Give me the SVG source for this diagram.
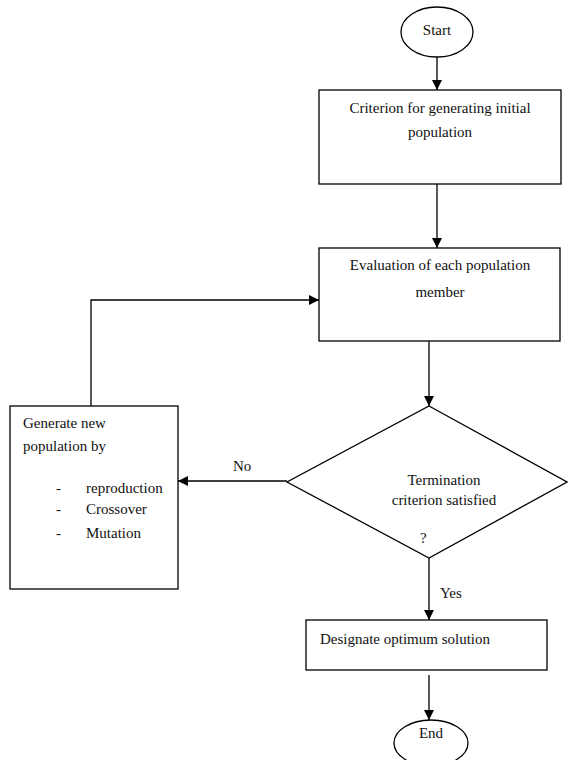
<svg xmlns="http://www.w3.org/2000/svg" width="568" height="760" viewBox="0 0 568 760">
<defs>
<marker id="ah" markerWidth="10" markerHeight="10" refX="10" refY="5" orient="auto" markerUnits="userSpaceOnUse">
<path d="M0,0 L10,5 L0,10 Z" fill="#000"/>
</marker>
<style>
.s{fill:#fff;stroke:#000;stroke-width:1.3}
.t{font-family:"Liberation Serif","DejaVu Serif","Times New Roman",serif;font-size:15px;fill:#111}
.c{text-anchor:middle}
.l{fill:none;stroke:#000;stroke-width:1.3;marker-end:url(#ah)}
</style>
</defs>
<rect width="568" height="760" fill="#fff"/>
<g id="connectors">
<line class="l" x1="437" y1="57" x2="437" y2="90"/>
<line class="l" x1="437" y1="184" x2="437" y2="248"/>
<line class="l" x1="429" y1="341" x2="429" y2="406"/>
<line class="l" x1="287" y1="481" x2="178" y2="481"/>
<polyline class="l" points="91,406 91,300 319,300"/>
<line class="l" x1="429" y1="558" x2="429" y2="620"/>
<line class="l" x1="429" y1="675" x2="429" y2="720"/>
<text class="t" x="233" y="471">No</text>
<text class="t" x="440" y="598">Yes</text>
</g>
<g id="start">
<ellipse class="s" cx="437" cy="32" rx="36" ry="25"/>
<text class="t c" x="437" y="35">Start</text>
</g>
<g id="init">
<rect class="s" x="319" y="90" width="242" height="94"/>
<text class="t c" x="440" y="113">Criterion for generating initial</text>
<text class="t c" x="440" y="137">population</text>
</g>
<g id="eval">
<rect class="s" x="319" y="248" width="241" height="93"/>
<text class="t c" x="440" y="270">Evaluation of each population</text>
<text class="t c" x="440" y="297">member</text>
</g>
<g id="decision">
<polygon class="s" points="429,406 567,482 429,558 287,482"/>
<text class="t c" x="444" y="485">Termination</text>
<text class="t c" x="444" y="505">criterion satisfied</text>
<text class="t" x="420" y="543">?</text>
</g>
<g id="generate">
<rect class="s" x="10" y="406" width="168" height="183"/>
<text class="t" x="23" y="428">Generate new</text>
<text class="t" x="23" y="451">population by</text>
<text class="t" x="56" y="493">-</text>
<text class="t" x="86" y="493">reproduction</text>
<text class="t" x="56" y="514">-</text>
<text class="t" x="86" y="514">Crossover</text>
<text class="t" x="56" y="538">-</text>
<text class="t" x="86" y="538">Mutation</text>
</g>
<g id="designate">
<rect class="s" x="306" y="620" width="241" height="50"/>
<text class="t" x="320" y="644">Designate optimum solution</text>
</g>
<g id="end">
<ellipse class="s" cx="431" cy="743" rx="37" ry="23"/>
<text class="t c" x="431" y="738">End</text>
</g>
</svg>
